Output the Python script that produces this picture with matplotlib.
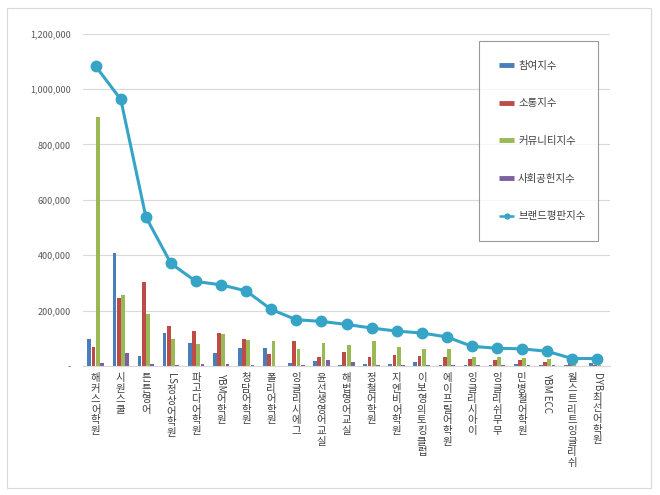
import re
import numpy as np
import matplotlib
matplotlib.use('Agg')
from matplotlib import pyplot as plt
from matplotlib.lines import Line2D
from matplotlib.patches import Rectangle
from matplotlib.ticker import FuncFormatter

plt.rcParams['font.family'] = ['Noto Sans CJK KR', 'DejaVu Sans']

names = ['해커스어학원', '시원스쿨', '튼튼영어', 'LS정상어학원', '파고다어학원', 'YBM어학원',
         '청담어학원', '폴리어학원', '잉글리시에그', '윤선생영어교실', '해법영어교실', '정철어학원',
         '지엔비어학원', '이보영의토킹클럽', '에이프릴어학원', '잉글리시아이', '잉글리쉬무무',
         '민병철어학원', 'YBM ECC', '월스트리트잉글리쉬', 'DYB최선어학원']
participation = [96000, 408000, 36000, 118000, 83000, 48000, 65000, 66000, 12000, 18000, 5000,
                 6000, 6000, 14000, 4000, 4000, 2000, 7000, 2000, 2000, 10000]
communication = [68000, 244000, 303000, 144000, 128000, 119000, 97000, 42000, 89000, 34000, 50000,
                 32000, 41000, 36000, 31000, 25000, 22000, 20000, 14000, 11000, 5000]
community = [898000, 256000, 186000, 97000, 80000, 115000, 95000, 90000, 60000, 83000, 74000,
             90000, 68000, 60000, 60000, 34000, 34000, 28000, 25000, 10000, 4000]
social = [10000, 48000, 7000, 2000, 7000, 7000, 5000, 1000, 2000, 20000, 14000,
          2000, 2000, 2000, 2000, 2000, 2000, 2000, 4000, 1000, 1000]
brand = [1082000, 962000, 538000, 370000, 305000, 293000, 271000, 204000, 167000, 161000, 150000,
         137000, 126000, 119000, 105000, 71000, 64000, 62000, 53000, 27000, 27000]
series_names = ['참여지수', '소통지수', '커뮤니티지수', '사회공헌지수', '브랜드평판지수']

colors = ['#4A7EBB', '#BE4B48', '#98B954', '#7D60A0']
line_color = '#35A4C6'
text_color = '#404040'

fig = plt.figure(figsize=(6.6, 4.95), dpi=100)
fig.add_artist(Rectangle((7/660, 1-488/495), 644/660, 480/495, transform=fig.transFigure,
                         fill=False, edgecolor='#D9D9D9', lw=0.8))
ax = fig.add_axes([0.126, 0.2606, 0.798, 0.6717])

n = len(names)
x = np.arange(n)
w = 0.15
offs = [-0.255, -0.085, 0.085, 0.255]
for vals, c, o in zip([participation, communication, community, social], colors, offs):
    ax.bar(x + o, vals, w, color=c, zorder=2)
ax.plot(x, brand, color=line_color, lw=2.2, marker='o', ms=7.5, zorder=5)

ax.set_xlim(-0.5, n - 0.5)
ax.set_ylim(0, 1200000)
ax.set_yticks(np.arange(0, 1200001, 200000))
ax.yaxis.set_major_formatter(FuncFormatter(lambda v, p: '-' if v == 0 else f'{int(v):,}'))
ax.yaxis.grid(True, color='#D9D9D9', lw=0.8)
ax.set_axisbelow(True)
for s in ['left', 'right', 'top']:
    ax.spines[s].set_visible(False)
ax.spines['bottom'].set_color('#D9D9D9')
ax.tick_params(length=0, labelsize=6.5, labelcolor='#595959', pad=9)
ax.set_xticks(x)
ax.set_xticklabels([])

# vertical labels: hangul stacked upright, latin runs rotated
renderer = fig.canvas.get_renderer()
fs = 7.5
for i, name in enumerate(names):
    off = 5
    for run in re.findall(r'[A-Za-z ]+|[^A-Za-z ]', name):
        if re.match(r'[A-Za-z]', run):
            t = ax.annotate(run, xy=(i, 0), xycoords=('data', 'axes fraction'), xytext=(0, -off),
                            textcoords='offset points', rotation=270, ha='center', va='top',
                            fontsize=fs - 0.5, color=text_color)
            off += t.get_window_extent(renderer).height * 72 / fig.dpi + 1
        else:
            ax.annotate(run, xy=(i, 0), xycoords=('data', 'axes fraction'), xytext=(0, -off),
                        textcoords='offset points', ha='center', va='top',
                        fontsize=fs, color=text_color)
            off += fs * 1.02

handles = [Line2D([], [], color=c, lw=3.5, solid_capstyle='butt') for c in colors]
handles.append(Line2D([], [], color=line_color, lw=1.8, marker='o', ms=3.5, solid_capstyle='butt'))
leg = fig.legend(handles, series_names, loc='upper left', bbox_to_anchor=(479/660, 1-46/495, 119/660, 0.01),
                 mode='expand', fontsize=fs, frameon=True, fancybox=False, edgecolor='#808080',
                 labelspacing=2.65, borderpad=1.9, handlelength=1.5, handletextpad=0.35,
                 borderaxespad=0)
leg.get_frame().set_linewidth(0.8)
for t in leg.get_texts():
    t.set_color(text_color)

fig.savefig('out.png', dpi=100)
